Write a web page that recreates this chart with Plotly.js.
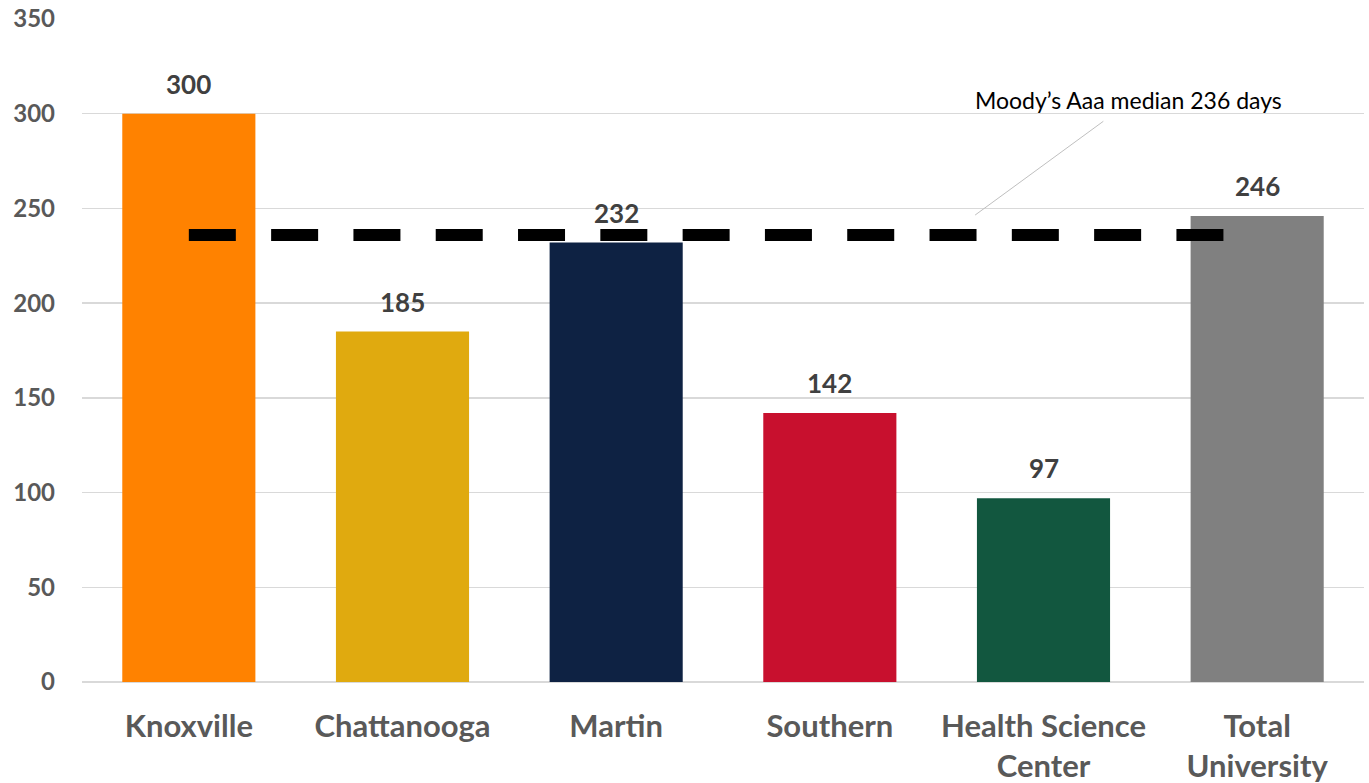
<!DOCTYPE html>
<html>
<head>
<meta charset="utf-8">
<script src="https://cdn.plot.ly/plotly-3.0.1.min.js"></script>
<style>html,body{margin:0;padding:0;background:#fff;}#chart{width:1369px;height:783px;}</style>
</head>
<body>
<div id="chart"></div>
<script>
const categories = ["Knoxville", "Chattanooga", "Martin", "Southern", "Health Science<br>Center", "Total<br>University"];
const daysCash = [300, 185, 232, 142, 97, 246];
const barColors = ["#FF8200", "#E0AA0F", "#0E2243", "#C8102E", "#12573F", "#808080"];
const medianValue = 236;
const medianLabel = "Moody’s Aaa median 236 days";
const yTicks = [0, 50, 100, 150, 200, 250, 300, 350];

const FONT = "Lato, 'Open Sans', sans-serif";
const GREY = "#595959";

const bars = {
  type: "bar",
  x: categories,
  y: daysCash,
  marker: {color: barColors},
  hoverinfo: "x+y",
  showlegend: false
};

const median = {
  type: "scatter",
  mode: "lines",
  x: [categories[0], categories[categories.length - 1]],
  y: [medianValue, medianValue],
  line: {color: "#000000", width: 12, dash: "47px,35.3px"},
  showlegend: false,
  hoverinfo: "skip"
};

const valueLabels = categories.map((c, i) => ({
  x: c, y: daysCash[i], xref: "x", yref: "y",
  text: String(daysCash[i]), showarrow: false,
  yshift: 30,
  font: {family: FONT, size: 26, color: "#404040", weight: 700}
}));

const layout = {
  width: 1369, height: 783,
  margin: {l: 82, r: 5, t: 19, b: 101},
  paper_bgcolor: "#ffffff", plot_bgcolor: "#ffffff",
  bargap: 0.377,
  font: {family: FONT, color: GREY},
  xaxis: {
    type: "category",
    showgrid: false, zeroline: false, showline: false,
    ticks: "", ticklabelstandoff: 23,
    tickfont: {family: FONT, size: 31, color: GREY, weight: 700}
  },
  yaxis: {
    range: [0, 350], tickvals: yTicks,
    showgrid: true, gridcolor: "#D9D9D9", gridwidth: 1.5,
    zeroline: true, zerolinecolor: "#D9D9D9", zerolinewidth: 1.5,
    showline: false, ticks: "", ticklabelstandoff: 26,
    tickfont: {family: FONT, size: 24, color: GREY, weight: 700}
  },
  shapes: [{
    type: "line", xref: "x", yref: "y",
    x0: 3.68, y0: 246.5, x1: 4.28, y1: 296,
    line: {color: "#BFBFBF", width: 1}
  }],
  annotations: valueLabels.concat([{
    x: 4.40, y: 307.3, xref: "x", yref: "y",
    text: medianLabel, showarrow: false,
    font: {family: FONT, size: 23, color: "#000000"}
  }])
};

Plotly.newPlot("chart", [bars, median], layout, {displayModeBar: false, staticPlot: true});
</script>
</body>
</html>
